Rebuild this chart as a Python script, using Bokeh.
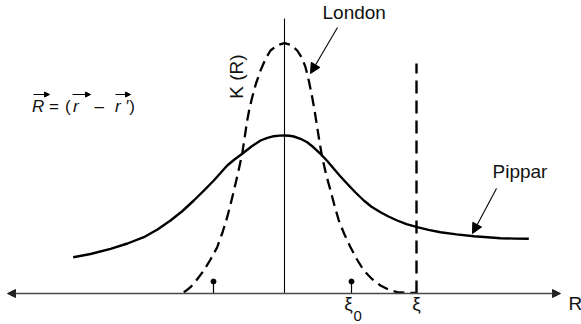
import math
from bokeh.plotting import figure
from bokeh.models import Arrow, NormalHead, Label, Range1d
from bokeh.embed import file_html
from bokeh.resources import INLINE

# Kernel K(R) versus separation R (R = 0 at the centre line, K = 0 on the R axis)
london_R = [-100.7, -97.5, -94, -87.5, -80.7, -74, -67.3, -62, -57.3, -53, -49, -45.5,
            -42.3, -39.7, -37.3, -35, -32.3, -28.5, -24, -19, -14, -7, 0, 6.5, 12.7,
            17.5, 21, 24.5, 27.7, 30.3, 32.7, 35, 37.7, 41.5, 46, 50, 54.3, 60, 66,
            72.5, 79.3, 87.5, 96, 104, 112.7, 122, 132.7]
london_K = [1.3, 3.5, 6.3, 14, 23, 34, 46.3, 61, 76.3, 93, 109.7, 125,
            139.7, 157, 173, 185, 196.3, 210, 223, 234.5, 243, 248.5, 250.3, 248.5, 243,
            235.5, 226.3, 212, 196.3, 181.5, 166.3, 151.5, 136.3, 119.5, 103, 88, 73, 59, 46.3,
            34, 23, 14.5, 8, 4, 1.3, 0.7, 0.7]

pippard_R = [-211.3, -194, -174, -157, -140.7, -127, -114, -102, -90.7, -80.5, -70.7,
             -64, -57.3, -50, -42.3, -33, -24, -17, -10.7, -5, 0, 5, 9.3, 16, 22.7,
             29, 36, 43, 49.3, 56, 62.7, 71, 79.3, 87, 96, 104, 112.7, 122, 132.7,
             144, 156, 172, 189.3, 203, 216, 230, 244.3]
pippard_K = [36.3, 39.5, 44.7, 50, 56.3, 64, 73, 82.5, 93, 103, 113,
             120.5, 128, 134, 139.7, 147, 153, 155.7, 157.3, 157.9, 158, 157.8, 157, 154.7, 151.3,
             146.2, 139.7, 132.2, 124.7, 117, 109.7, 101, 93, 86.8, 81.3, 77, 73, 69.3, 66.3,
             63.6, 61.3, 59.1, 57.3, 56.2, 55.3, 54.9, 54.7]

tick_R = [-71, 67]          # marked points on the R axis
xi0 = 67                    # coherence length xi_0
xi = 132                    # cut-off xi
xi_cut_top = 230
axis_left, axis_right = -277, 276
kaxis_top = 275

FONT = "Liberation Sans"

p = figure(width=581, height=324, x_range=Range1d(-284, 297), y_range=Range1d(-31, 293),
           output_backend="svg", toolbar_location=None, min_border=0,
           x_axis_location=None, y_axis_location=None)
p.grid.visible = False
p.outline_line_color = None
p.background_fill_color = "white"

# R axis with arrows at both ends
for end_x in (axis_right, axis_left):
    p.add_layout(Arrow(x_start=0, y_start=0, x_end=end_x, y_end=0,
                       line_color="#4a4a4a", line_width=1.6,
                       end=NormalHead(size=8, fill_color="#222222", line_color="#222222")))

# K axis (centre line)
p.segment(x0=[0], y0=[0], x1=[0], y1=[kaxis_top], line_color="black", line_width=1.1)

# tick marks with dots
p.segment(x0=tick_R, y0=[0] * len(tick_R), x1=tick_R, y1=[12] * len(tick_R),
          line_color="black", line_width=1.2)
p.scatter(x=tick_R, y=[12] * len(tick_R), size=5, color="black")

# London kernel (dashed) and Pippard kernel (solid)
p.line(london_R, london_K, line_color="black", line_width=2.3, line_dash="11 6",
       line_join="round")
p.line(pippard_R, pippard_K, line_color="black", line_width=2.4, line_join="round")

# cut-off at xi
p.segment(x0=[xi], y0=[0], x1=[xi], y1=[xi_cut_top], line_color="black",
          line_width=2.4, line_dash="13 7")

# curve labels with pointers
p.add_layout(Label(x=38, y=271, text="London", text_font=FONT, text_font_size="19px",
                   text_color="#111111"))
p.add_layout(Arrow(x_start=53, y_start=266, x_end=26, y_end=220, line_color="black",
                   line_width=1.1, end=NormalHead(size=10, fill_color="black", line_color="black")))
p.add_layout(Label(x=208, y=111.5, text="Pippar", text_font=FONT, text_font_size="19px",
                   text_color="#111111"))
p.add_layout(Arrow(x_start=212, y_start=105, x_end=188, y_end=60, line_color="black",
                   line_width=1.1, end=NormalHead(size=10, fill_color="black", line_color="black")))

# axis labels
p.add_layout(Label(x=284, y=-20, text="R", text_font=FONT, text_font_size="19px",
                   text_color="#111111"))
p.add_layout(Label(x=-48, y=217, text="K (R)", text_font=FONT, text_font_size="19px",
                   text_color="#111111", angle=math.pi / 2, text_align="center",
                   text_baseline="middle"))

# xi labels
p.add_layout(Label(x=xi0 - 3, y=-20, text="ξ", text_font=FONT, text_font_size="19px",
                   text_color="#111111", text_align="center"))
p.add_layout(Label(x=xi0 + 2, y=-27, text="0", text_font=FONT, text_font_size="15px",
                   text_color="#111111"))
p.add_layout(Label(x=xi, y=-20, text="ξ", text_font=FONT, text_font_size="19px",
                   text_color="#111111", text_align="center"))

# R = (r - r') with vector arrows
fy = 178
pieces = [(-252.5, "R", "italic"), (-235.5, "=", "normal"), (-219.5, "(", "normal"),
          (-211.5, "r", "italic"), (-190, "–", "normal"), (-169.5, "r", "italic"),
          (-158.5, "′)", "normal")]
for px, txt, style in pieces:
    p.add_layout(Label(x=px, y=fy, text=txt, text_font=FONT, text_font_size="17px",
                       text_font_style=style, text_color="#111111"))
for x0, x1 in [(-251, -235), (-212, -194), (-169, -154)]:
    p.add_layout(Arrow(x_start=x0, y_start=199, x_end=x1, y_end=199, line_color="black",
                       line_width=1.1, end=NormalHead(size=5, fill_color="black",
                                                      line_color="black")))

open("out.html", "w").write(file_html(p, INLINE))
